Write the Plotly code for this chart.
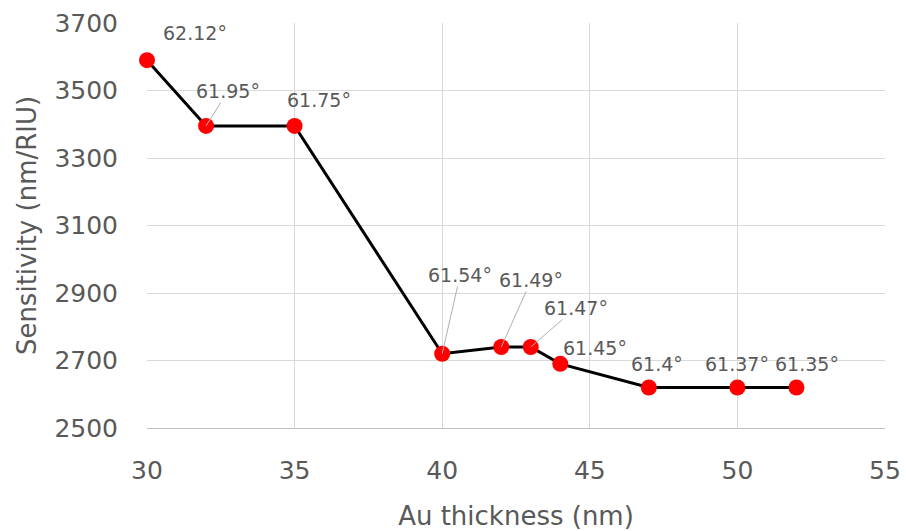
import plotly.graph_objects as go

thickness = [30, 32, 35, 40, 42, 43, 44, 47, 50, 52]
sensitivity = [3590, 3395, 3395, 2720, 2740, 2740, 2690, 2620, 2620, 2620]
angle_labels = ["62.12°", "61.95°", "61.75°", "61.54°", "61.49°", "61.47°",
                "61.45°", "61.4°", "61.37°", "61.35°"]
label_dx = [48, 22, 24, 18, 30, 45, 35, 8, 0, 11]
label_dy = [-27, -35, -26, -79, -67, -39, -16, -24, -24, -24]
leader = [False, True, False, True, True, True, False, False, False, False]

x_ticks = [30, 35, 40, 45, 50, 55]
y_ticks = [2500, 2700, 2900, 3100, 3300, 3500, 3700]

FONT = "DejaVu Sans"
GRAY = "#595959"

fig = go.Figure()
fig.add_trace(go.Scatter(
    x=thickness, y=sensitivity, mode="lines+markers",
    line=dict(color="black", width=3),
    marker=dict(color="#ff0000", size=16),
    showlegend=False, cliponaxis=False,
))

for xv, yv, t, dx, dy, ld in zip(thickness, sensitivity, angle_labels, label_dx, label_dy, leader):
    fig.add_annotation(
        x=xv, y=yv, text=t, ax=dx, ay=dy, showarrow=True,
        arrowhead=0, arrowwidth=1,
        arrowcolor="#b0b0b0" if ld else "rgba(0,0,0,0)",
        font=dict(family=FONT, size=19, color=GRAY),
        borderpad=0,
    )

fig.update_layout(
    width=906, height=531,
    margin=dict(l=147, r=21, t=23, b=103),
    plot_bgcolor="white", paper_bgcolor="white",
    font=dict(family=FONT, color=GRAY),
)
fig.update_xaxes(
    range=[30, 55], tickvals=x_ticks, showgrid=True, gridcolor="#d9d9d9", gridwidth=1,
    zeroline=False, showline=True, linecolor="#bfbfbf", linewidth=1, automargin=False,
    tickfont=dict(family=FONT, size=25, color=GRAY), ticklabelstandoff=20,
    title=dict(text="Au thickness (nm)", font=dict(family=FONT, size=26, color=GRAY), standoff=22),
)
fig.update_yaxes(
    range=[2500, 3700], tickvals=y_ticks, showgrid=True, gridcolor="#d9d9d9", gridwidth=1,
    zeroline=False, showline=False, automargin=False,
    tickfont=dict(family=FONT, size=25, color=GRAY), ticklabelstandoff=28,
    title=dict(text="Sensitivity (nm/RIU)", font=dict(family=FONT, size=26, color=GRAY), standoff=10),
)

fig.write_html(
    "out.html",
    config={"displayModeBar": False},
    post_script="document.body.style.margin='0';document.body.style.overflow='hidden';",
)
